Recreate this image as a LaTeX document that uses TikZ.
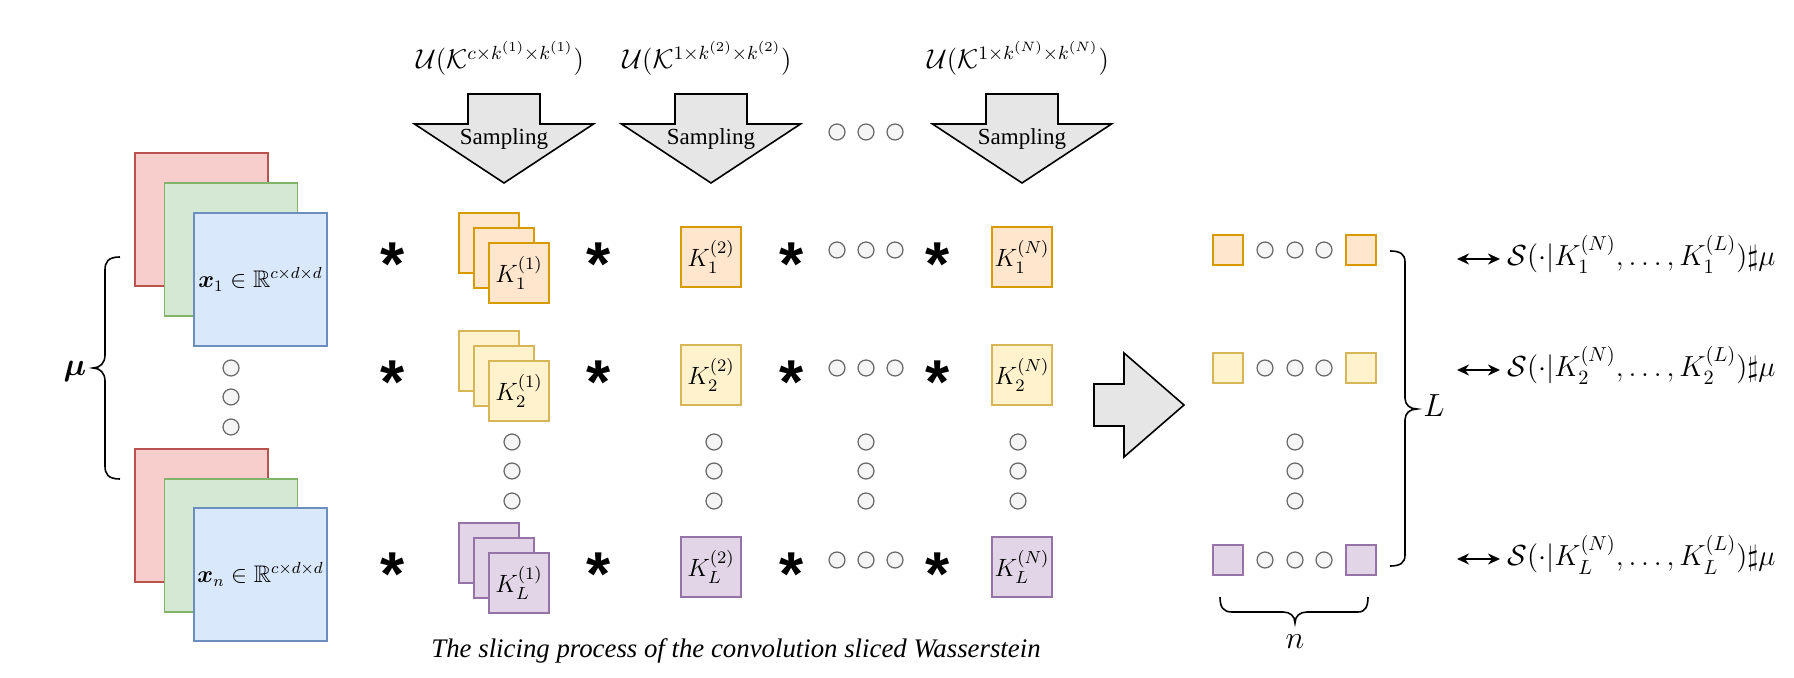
\RequirePackage{fix-cm}
\documentclass[tikz,border=0pt]{standalone}
\usepackage{amsmath,amssymb}
\usepackage{fontspec}
\newfontfamily\timesfont{Liberation Serif}
\newfontfamily\arialfont{Liberation Sans}
\usetikzlibrary{arrows.meta}
\definecolor{redF}{HTML}{F8CECC}\definecolor{redD}{HTML}{B85450}
\definecolor{greenF}{HTML}{D5E8D4}\definecolor{greenD}{HTML}{82B366}
\definecolor{blueF}{HTML}{DAE8FC}\definecolor{blueD}{HTML}{6C8EBF}
\definecolor{oraF}{HTML}{FFE6CC}\definecolor{oraD}{HTML}{D79B00}
\definecolor{yelF}{HTML}{FFF2CC}\definecolor{yelD}{HTML}{D6B656}
\definecolor{purF}{HTML}{E1D5E7}\definecolor{purD}{HTML}{9673A6}
\definecolor{grayF}{HTML}{E6E6E6}
\definecolor{dotF}{HTML}{F5F5F5}\definecolor{dotD}{HTML}{666666}
\begin{document}
\begin{tikzpicture}[x=0.5pt,y=-0.5pt,
  sq/.style={draw, line width=0.9pt, minimum width=66.5pt, minimum height=66.5pt, inner sep=0pt, font=\fontsize{12}{14}\selectfont},
  kbox/.style={draw, line width=0.9pt, minimum size=30pt, inner sep=0pt, font=\fontsize{12.5}{14}\selectfont},
  smallbox/.style={draw, line width=0.9pt, minimum size=15pt, inner sep=0pt},
  dotn/.style={circle, draw=dotD, fill=dotF, line width=0.6pt, minimum size=8pt, inner sep=0pt},
  starn/.style={font=\arialfont\bfseries\fontsize{31}{31}\selectfont, inner sep=0pt, anchor=base},
  samp/.style={font=\timesfont\fontsize{11.5}{13}\selectfont, inner sep=0pt, anchor=base},
  ulab/.style={font=\fontsize{13.6}{16}\selectfont, inner sep=0pt, anchor=base},
  slab/.style={font=\fontsize{14.5}{17}\selectfont, inner sep=0pt, anchor=base west},
  big/.style={font=\fontsize{16}{19}\selectfont, inner sep=0pt, anchor=base},
  shp/.style={draw, fill=grayF, line width=0.8pt, line join=miter},
  brc/.style={draw, line width=0.8pt},
  dar/.style={{Stealth[length=6pt,width=5.5pt]}-{Stealth[length=6pt,width=5.5pt]}, line width=1.1pt}
]
\fill[white] (0,0) rectangle (1794,678);
\useasboundingbox (0,0) rectangle (1794,678);

% ---------- sampling arrows and distributions ----------
\foreach \cx/\n in {504/1,711/2,1022/3}{
  \draw[shp] (\cx-36,94) -- (\cx+36,94) -- (\cx+36,124) -- (\cx+89.5,124) -- (\cx,183) -- (\cx-89.5,124) -- (\cx-36,124) -- cycle;
  \node[samp] (samp\n) at (\cx,145) {Sampling};
}
\node[ulab] (u1) at (500,69) {$\mathcal{U}(\mathcal{K}^{c\times k^{(1)}\times k^{(1)}})$};
\node[ulab] (u2) at (707,69) {$\mathcal{U}(\mathcal{K}^{1\times k^{(2)}\times k^{(2)}})$};
\node[ulab] (u3) at (1018,69) {$\mathcal{U}(\mathcal{K}^{1\times k^{(N)}\times k^{(N)}})$};
\foreach \x/\n in {837/1,866/2,895/3}{\node[dotn] (td\n) at (\x,132) {};}

% ---------- input data stacks ----------
\node[sq, draw=redD, fill=redF] (r1) at (201.5,219.5) {};
\node[sq, draw=greenD, fill=greenF] (g1) at (231,249.5) {};
\node[sq, draw=blueD, fill=blueF] (b1) at (260.5,279.5) {$\boldsymbol{x}_1\in\mathbb{R}^{c\times d\times d}$};
\node[sq, draw=redD, fill=redF] (r2) at (201.5,515.5) {};
\node[sq, draw=greenD, fill=greenF] (g2) at (231,545.5) {};
\node[sq, draw=blueD, fill=blueF] (b2) at (260.5,574.5) {$\boldsymbol{x}_n\in\mathbb{R}^{c\times d\times d}$};
\foreach \y/\n in {368/1,397/2,427/3}{\node[dotn] (ld\n) at (231,\y) {};}
\draw[brc] (120,257) .. controls (108,257) and (105,262) .. (105,270) -- (105,355) .. controls (105,363) and (100,368) .. (93,368) .. controls (100,368) and (105,373) .. (105,381) -- (105,466) .. controls (105,474) and (108,479) .. (120,479);
\node[big] (mu) at (75,376) {$\boldsymbol{\mu}$};

% ---------- kernel rows ----------
\foreach \r/\col/\s/\n in {250/ora/1/a,368/yel/2/b,560/pur/L/c}{
  \node[starn] (sa\n) at (393,\r+36) {*};
  \node[kbox, draw=\col D, fill=\col F] (kb\n) at (489,\r-7) {};
  \node[kbox, draw=\col D, fill=\col F] (km\n) at (504,\r+8) {};
  \node[kbox, draw=\col D, fill=\col F] (kf\n) at (519,\r+23) {$K_{\s}^{(1)}$};
  \node[starn] (sb\n) at (599,\r+36) {*};
  \node[kbox, draw=\col D, fill=\col F] (kt\n) at (711,\r+7) {$K_{\s}^{(2)}$};
  \node[starn] (sc\n) at (792,\r+36) {*};
  \node[dotn] (ha\n) at (837,\r) {};
  \node[dotn] (hb\n) at (866,\r) {};
  \node[dotn] (hc\n) at (895,\r) {};
  \node[starn] (sd\n) at (938,\r+36) {*};
  \node[kbox, draw=\col D, fill=\col F] (kn\n) at (1022,\r+7) {$K_{\s}^{(N)}$};
  % result matrix
  \node[smallbox, draw=\col D, fill=\col F] (ml\n) at (1228,\r) {};
  \node[dotn] (ma\n) at (1265,\r) {};
  \node[dotn] (mb\n) at (1295,\r) {};
  \node[dotn] (mc\n) at (1324,\r) {};
  \node[smallbox, draw=\col D, fill=\col F] (mr\n) at (1361,\r) {};
}
\foreach \x/\c in {512/p,714/q,866/s,1018/t,1295/u}{
  \foreach \y/\n in {442/1,471/2,501/3}{\node[dotn] (vd\c\n) at (\x,\y) {};}
}

% ---------- big arrow ----------
\draw[shp] (1094,384) -- (1124,384) -- (1124,353) -- (1184,405) -- (1124,457) -- (1124,426) -- (1094,426) -- cycle;

% ---------- braces L and n ----------
\draw[brc] (1390,251) .. controls (1400,251) and (1405,254) .. (1405,262) -- (1405,398) .. controls (1405,405) and (1410,409) .. (1417,409) .. controls (1410,409) and (1405,413) .. (1405,420) -- (1405,555) .. controls (1405,563) and (1400,566) .. (1390,566);
\node[big] (lL) at (1434,417) {$L$};
\draw[brc] (1220,597) .. controls (1220,607) and (1223,612) .. (1232,612) -- (1283,612) .. controls (1290,612) and (1295,616) .. (1295,623) .. controls (1295,616) and (1300,612) .. (1307,612) -- (1358,612) .. controls (1365,612) and (1368,607) .. (1368,597);
\node[big] (ln) at (1295,648) {$n$};

% ---------- right labels ----------
\foreach \ay/\by/\s/\n in {259/266/1/1,370/377/2/2,559/566/L/3}{
  \coordinate (aa\n) at (1457,\ay);
  \coordinate (ab\n) at (1500,\ay);
  \draw[dar] (aa\n) -- (ab\n);
  \node[slab] (tx\n) at (1507,\by) {$\mathcal{S}(\cdot|K_{\s}^{(N)},\ldots,K_{\s}^{(L)})\sharp\mu$};
}

% ---------- caption ----------
\node[font=\timesfont\itshape\fontsize{13.4}{16}\selectfont, inner sep=0pt, anchor=base] (cap) at (736,657) {The slicing process of the convolution sliced Wasserstein};
\end{tikzpicture}
\end{document}
